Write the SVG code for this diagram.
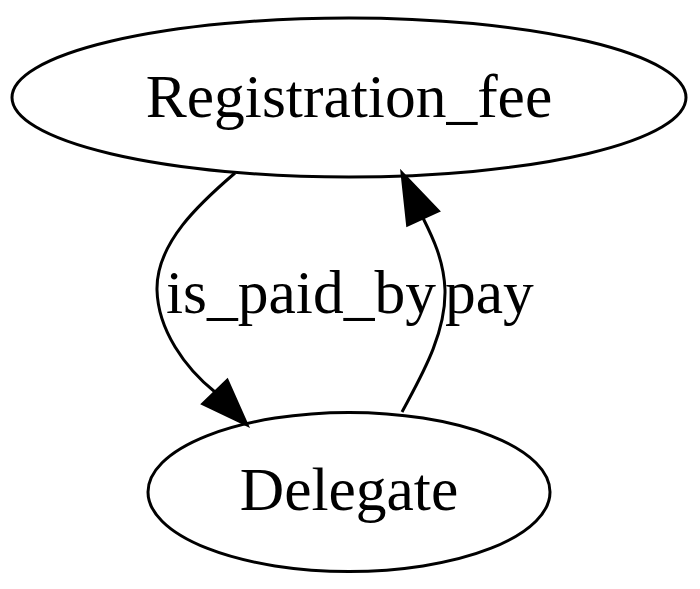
<svg xmlns="http://www.w3.org/2000/svg" width="700" height="589" viewBox="0 0 700 589">
<style>
.node ellipse{fill:none;stroke:#000;stroke-width:3}
text{font-family:"Liberation Serif","Times New Roman",serif;font-size:61.5px;fill:#000}
.edge path{fill:none;stroke:#000;stroke-width:3}
.edge polygon{fill:#000;stroke:#000;stroke-width:3}
</style>
<rect width="700" height="589" fill="#fff"/>
<g id="node-registration_fee" class="node">
<ellipse cx="349" cy="97.5" rx="337" ry="79.5"/>
<text x="349" y="117" text-anchor="middle">Registration_fee</text>
</g>
<g id="node-delegate" class="node">
<ellipse cx="349" cy="492" rx="201" ry="79.5"/>
<text x="349" y="510" text-anchor="middle">Delegate</text>
</g>
<g id="connectors" class="edge">
<path d="M235,173 C200,203 156,243 157,290 C158,330 185,368 215,392"/>
<polygon points="202.8,403.8 227.2,380.2 247,425"/>
<text x="166" y="313">is_paid_by</text>
<path d="M402,412 C420,378 446,335 445,290 C444,260 432,236 423,218"/>
<polygon points="438.4,210.9 407.6,225.1 402,173"/>
<text x="445" y="313">pay</text>
</g>
</svg>
